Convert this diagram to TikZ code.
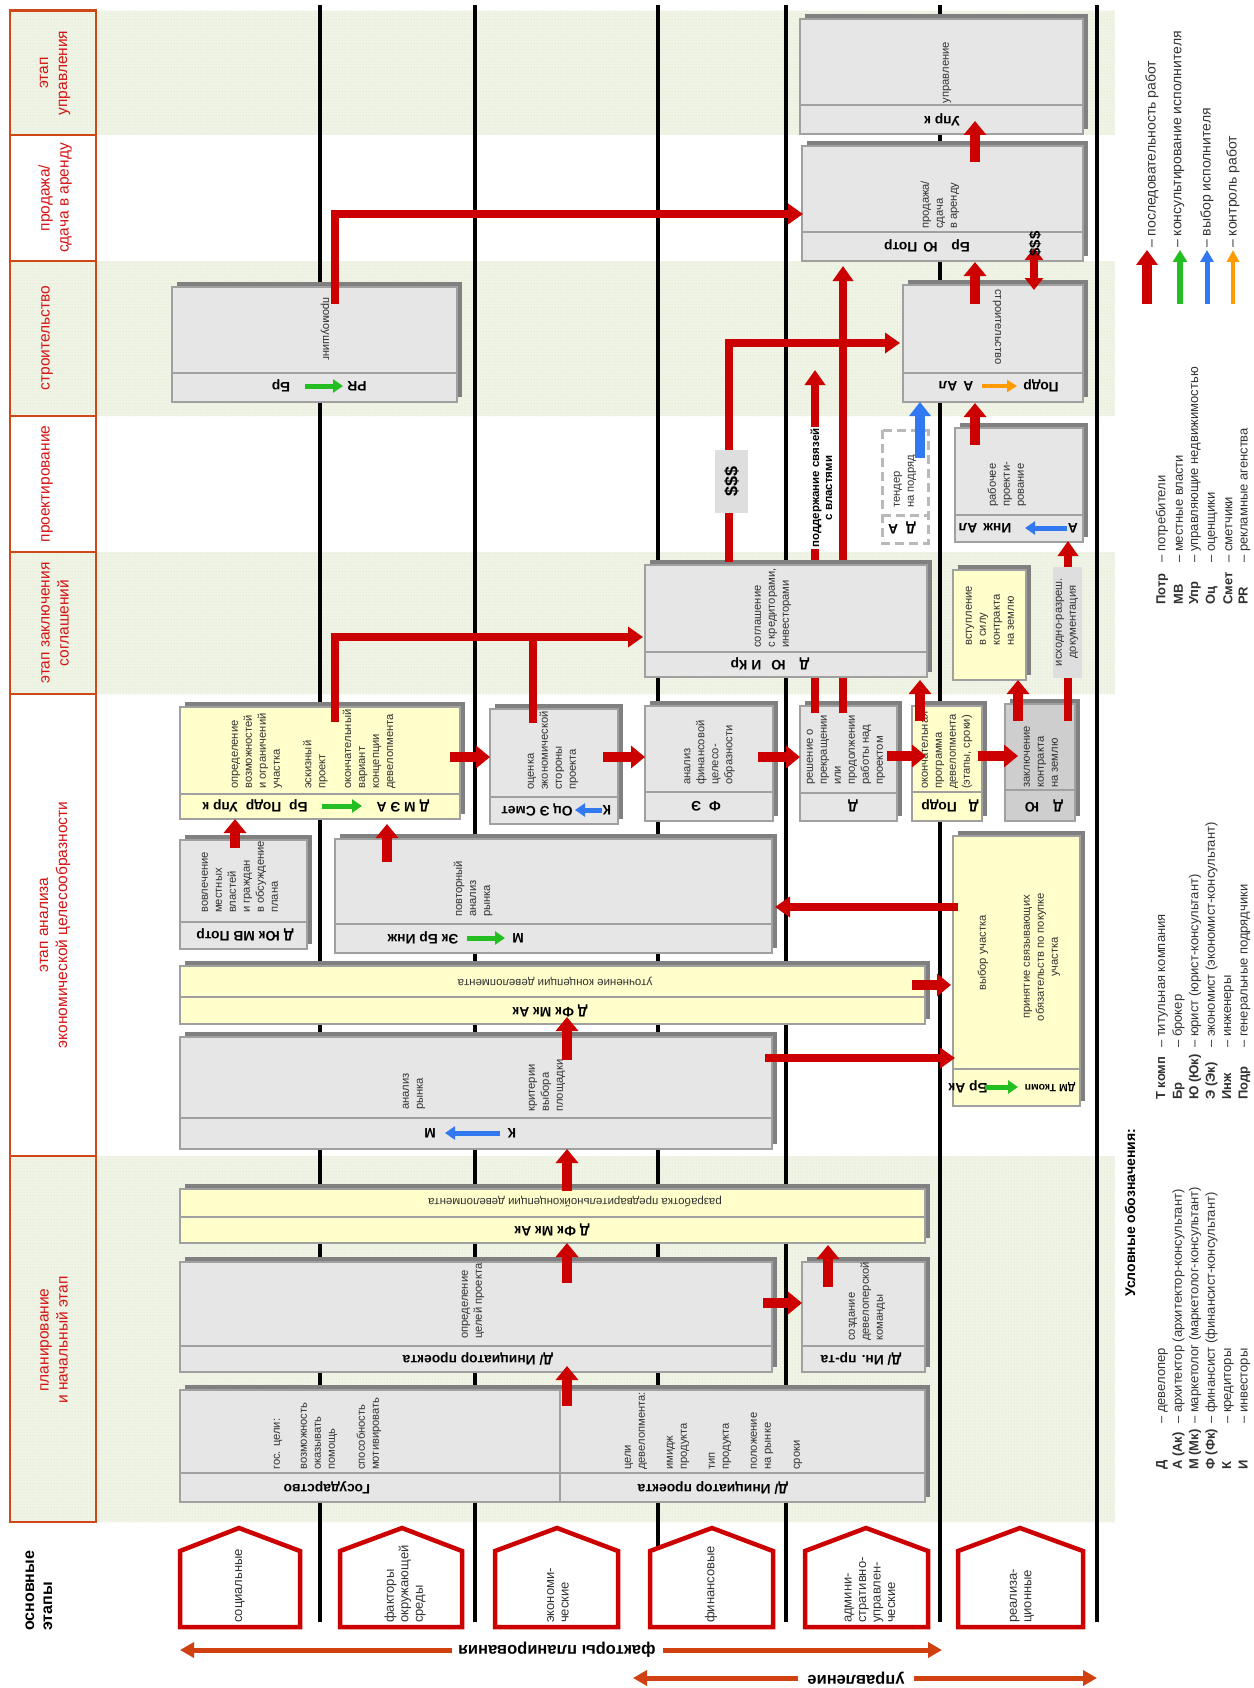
\documentclass[tikz,border=0pt]{standalone}
\usepackage{fontspec}
\setmainfont{Liberation Sans}
\usetikzlibrary{arrows.meta,patterns}
\definecolor{redc}{RGB}{204,0,0}
\definecolor{hdrc}{RGB}{208,72,24}
\definecolor{hdrtext}{RGB}{212,20,20}
\definecolor{botc}{RGB}{208,64,16}
\definecolor{bandc}{RGB}{240,244,230}
\definecolor{dotc}{RGB}{214,224,190}
\definecolor{boxg}{RGB}{230,230,230}
\definecolor{boxy}{RGB}{255,255,204}
\definecolor{boxd}{RGB}{206,206,206}
\definecolor{shadc}{RGB}{128,128,128}
\definecolor{bordc}{RGB}{160,160,160}
\definecolor{descc}{RGB}{50,50,50}
\definecolor{greenc}{RGB}{34,190,34}
\definecolor{bluec}{RGB}{50,120,240}
\definecolor{orangec}{RGB}{255,155,0}
\definecolor{labc}{RGB}{222,222,222}
\definecolor{tendc}{RGB}{185,185,185}
\tikzset{
  boxb/.style={draw=bordc, line width=2.2pt},
  sepl/.style={draw=bordc, line width=2pt},
  desc/.style={rotate=90, anchor=west, align=left, inner sep=0pt, text=descc, font=\fontsize{11.2}{14}\selectfont},
  descr/.style={rotate=-90, inner sep=0pt, text=descc, font=\fontsize{11.2}{14}\selectfont},
  descm/.style={rotate=90, align=center, inner sep=0pt, text=descc, font=\fontsize{11.2}{14}\selectfont},
  role/.style={rotate=180, inner sep=0pt, font=\bfseries\fontsize{13.8}{15}\selectfont},
  hdrtxt/.style={rotate=90, align=center, inner sep=0pt, text=hdrtext, font=\fontsize{15.5}{19}\selectfont},
  pentxt/.style={rotate=90, anchor=west, align=left, inner sep=0pt, text=descc, font=\fontsize{13}{14.5}\selectfont},
  rflow/.style={draw=redc, line width=10pt, -{Triangle[width=22pt,length=14pt]}},
  rline/.style={draw=redc, line width=8pt},
  rlinea/.style={draw=redc, line width=8pt, -{Triangle[width=20pt,length=15pt]}},
  garr/.style={draw=greenc, line width=5pt, -{Triangle[width=13pt,length=10pt]}},
  barr/.style={draw=bluec, line width=5pt, -{Triangle[width=13pt,length=10pt]}},
  oarr/.style={draw=orangec, line width=4pt, -{Triangle[width=12pt,length=10pt]}},
  botarr/.style={draw=botc, line width=5pt, -{Triangle[width=15pt,length=14pt]}},
  lane/.style={draw=black, line width=3.2pt},
  pent/.style={draw=redc, line width=4.5pt, fill=white, line join=miter},
  tend/.style={draw=tendc, line width=3pt, dash pattern=on 9pt off 5pt},
  legs/.style={rotate=90, anchor=west, inner sep=0pt, text=descc, font=\fontsize{13}{15}\selectfont},
  legsb/.style={rotate=90, anchor=west, inner sep=0pt, text=descc, font=\fontsize{14}{16}\selectfont}
}
\newcommand\gbx[6]{%
  \fill[shadc] (#1+5,#2-5) rectangle (#3+5,#4-5);
  \draw[boxb,fill=#6] (#1,#2) rectangle (#3,#4);
  \draw[sepl] (#1,#5) -- (#3,#5);
}
\newcommand\gbxn[5]{%
  \fill[shadc] (#1+5,#2-5) rectangle (#3+5,#4-5);
  \draw[boxb,fill=#5] (#1,#2) rectangle (#3,#4);
}
\newcommand\lgd[5]{\node[legs] at (#1,#2) {\makebox[#3pt][l]{\bfseries #4}– #5};}
\begin{document}
\begin{tikzpicture}[x=1pt,y=-1pt]
\useasboundingbox (0,0) rectangle (1253,1688);
\fill[white] (0,0) rectangle (1253,1688);
% bands
\foreach \ya/\yb in {10.7/135, 261/416, 552/694, 1156/1522}{
  \fill[bandc] (10,\ya) rectangle (1115,\yb);
  \fill[pattern=dots, pattern color=dotc] (10,\ya) rectangle (1115,\yb);}
% header cells
\foreach \ya/\yb in {10.7/135, 135/261, 261/416, 416/552, 552/694, 694/1156, 1156/1522}
  \draw[draw=hdrc, line width=2.5pt] (10,\ya) rectangle (96,\yb);
\node[hdrtxt] (h1) at (55,73) {этап\\управления};
\node[hdrtxt] (h2) at (55,198) {продажа/\\сдача в аренду};
\node[hdrtxt] (h3) at (47,338) {строительство};
\node[hdrtxt] (h4) at (47,484) {проектирование};
\node[hdrtxt] (h5) at (55,623) {этап заключения\\соглашений};
\node[hdrtxt] (h6) at (55,925) {этап анализа\\экономической целесообразности};
\node[hdrtxt] (h7) at (54,1340) {планирование\\и начальный этап};
\node[rotate=90, anchor=west, align=left, inner sep=0pt, font=\bfseries\fontsize{16}{18}\selectfont] (osn) at (39,1631) {основные\\этапы};
% lane lines
\foreach \x in {320,475,658,786,940,1097}
  \draw[lane] (\x,5) -- (\x,1622);
% pentagons
\foreach \l/\r/\p in {180/300/239, 340/462/402, 495/618/557, 650/773/712, 805/928/866, 958/1083/1020}
  \draw[pent] (\l,1627) -- (\l,1551) -- (\p,1528) -- (\r,1551) -- (\r,1627) -- cycle;
\node[pentxt] (p1) at (240,1623) {социальные};
\node[pentxt] (p2) at (405,1623) {факторы\\окружающей\\среды};
\node[pentxt] (p3) at (558,1623) {экономи-\\ческие};
\node[pentxt] (p4) at (711,1623) {финансовые};
\node[pentxt] (p5) at (870,1623) {админи-\\стративно-\\управлен-\\ческие};
\node[pentxt] (p6) at (1022,1623) {реализа-\\ционные};
% bottom arrows
\draw[botarr] (452,1650) -- (180,1650);
\draw[botarr] (663,1650) -- (942,1650);
\node[rotate=180, inner sep=0pt, font=\bfseries\fontsize{16.5}{18}\selectfont] (fp) at (557,1650) {факторы планирования};
\draw[botarr] (798,1678) -- (633,1678);
\draw[botarr] (914,1678) -- (1097,1678);
\node[rotate=180, inner sep=0pt, font=\bfseries\fontsize{16.5}{18}\selectfont] (upr) at (856,1678) {управление};
% boxes
\gbx{800}{19}{1083}{134}{105}{boxg}
\gbx{802}{146}{1083}{261}{232}{boxg}
\gbx{903}{285}{1083}{402}{373}{boxg}
\gbx{172}{287}{457}{402}{373}{boxg}
\gbx{955}{428}{1083}{542}{515}{boxg}
\gbxn{953}{570}{1026}{680}{boxy}
\gbx{180}{707}{460}{819}{794}{boxy}
\gbx{490}{709}{618}{824}{797}{boxg}
\gbx{645}{706}{773}{821}{792}{boxg}
\gbx{800}{706}{897}{821}{793}{boxg}
\gbx{912}{706}{982}{821}{792}{boxy}
\gbx{1005}{704}{1075}{821}{790}{boxd}
\gbx{180}{840}{307}{949}{922}{boxg}
\gbx{335}{839}{772}{953}{924}{boxg}
\gbx{180}{966}{925}{1024}{997}{boxy}
\gbx{953}{836}{1080}{1106}{1069}{boxy}
\gbx{180}{1037}{772}{1149}{1118}{boxg}
\gbx{180}{1189}{925}{1243}{1217}{boxy}
\gbx{180}{1262}{772}{1372}{1346}{boxg}
\gbx{802}{1262}{925}{1372}{1346}{boxg}
\gbx{180}{1390}{925}{1502}{1473}{boxg}
\draw[sepl] (560,1390) -- (560,1502);
% tender box
\fill[white] (882,430) rectangle (928,543);
\draw[tend] (882,430) rectangle (928,543);
\draw[tend] (882,515) -- (928,515);
% lines behind agreement box
\draw[rlinea] (815,713) -- (815,370);
\draw[rlinea] (843,713) -- (843,266);
\gbx{645}{565}{927}{677}{652}{boxg}
% descriptions
\node[desc] at (947,103.5) {управление};
\node[desc] at (940,229) {продажа/\\сдача\\в аренду};
\node[descr] at (997,327) {строительство};
\node[descr] at (325,329) {промоушинг};
\node[desc] at (1007,507) {рабочее\\проекти-\\рование};
\node[desc] at (905,508) {тендер\\на подряд};
\node[desc] at (773,648) {соглашение\\с кредиторами,\\инвесторами};
\node[desc] at (990,646) {вступление\\в силу\\контракта\\на землю};
\node[desc] at (257,789) {определение\\возможностей\\и ограничений\\участка};
\node[desc] at (315.5,789) {эскизный\\проект};
\node[desc] at (369,789) {окончательный\\вариант\\концепции\\девелопмента};
\node[desc] at (553,790) {оценка\\экономической\\стороны\\проекта};
\node[desc] at (709.5,785) {анализ\\финансовой\\целесо-\\образности};
\node[desc] at (846,785) {решение о\\прекращении\\или\\продолжении\\работы над\\проектом};
\node[desc] at (947,789) {окончательная\\программа\\девелопмента\\(этапы, сроки)};
\node[desc] at (1041,788) {заключение\\контракта\\на землю};
\node[desc] at (240,913) {вовлечение\\местных\\властей\\и граждан\\в обсуждение\\плана};
\node[desc] at (473,917) {повторный\\анализ\\рынка};
\node[descm] at (983,953) {выбор участка};
\node[descm] at (1042,957) {принятие связывающих\\обязательств по покупке\\участка};
\node[desc] at (414,1110) {анализ\\рынка};
\node[desc] at (547,1112) {критерии\\выбора\\площадки};
\node[desc] at (473,1339) {определение\\целей проекта};
\node[desc] at (867,1341) {создание\\девелоперской\\команды};
\node[desc] at (278,1470) {гос. цели:};
\node[desc] at (319,1470) {возможность\\оказывать\\помощь};
\node[desc] at (369,1470) {способность\\мотивировать};
\node[desc] at (636,1470) {цели\\девелопмента:};
\node[desc] at (678,1470) {имидж\\продукта};
\node[desc] at (720,1470) {тип\\продукта};
\node[desc] at (762,1470) {положение\\на рынке};
\node[desc] at (798,1470) {сроки};
\node[rotate=180, inner sep=0pt, text=descc, font=\fontsize{11.5}{14}\selectfont] at (555,981) {уточнение концепции девелопмента};
\node[rotate=180, inner sep=0pt, text=descc, font=\fontsize{11.5}{14}\selectfont] at (575,1202) {разработка предварительнойконцепции девелопмента};
% role strips
\node[role] at (942,119.5) {Упр к};
\node[role] at (927,246) {Бр\hspace{14pt}Ю\hspace{6pt}Потр};
\node[role] at (956,386) {А\hspace{6pt}Ал};
\node[role] at (1041,386) {Подр};
\node[role] at (281,386) {Бр};
\node[role] at (357,386) {PR};
\node[role] at (985,528) {Инж\hspace{6pt}Ал};
\node[role] at (1073,528) {А};
\node[role] at (902,528) {Д\hspace{8pt}А};
\node[role] at (770,664) {Д\hspace{14pt}Ю\hspace{10pt}И\hspace{4pt}Кр};
\node[role] at (255,806) {Бр\hspace{8pt}Подр\hspace{8pt}Упр к};
\node[role] at (403,806) {Д М Э А};
\node[role] at (537,810) {Оц\ Э\ Смет};
\node[role] at (607,810) {К};
\node[role] at (706,806) {Ф\hspace{8pt}Э};
\node[role] at (853,806) {Д};
\node[role] at (950,806) {Д\hspace{12pt}Подр};
\node[role] at (1044,806) {Д\hspace{14pt}Ю};
\node[role] at (245,935) {Д Юк МВ Потр};
\node[role] at (423,938) {Эк Бр Инж};
\node[role] at (518,938) {М};
\node[role] at (550,1011) {Д Фк Мк Ак};
\node[role] at (968,1087) {Бр Ак};
\node[role, font=\bfseries\fontsize{10.5}{12}\selectfont] at (1050,1087) {ДМ Ткомп};
\node[role] at (430,1133) {М};
\node[role] at (512,1133) {К};
\node[role] at (552,1230) {Д Фк Мк Ак};
\node[role] at (478,1359) {Д/ Инициатор проекта};
\node[role] at (861,1359) {Д/ Ин. пр-та};
\node[role] at (327,1488) {Государство};
\node[role] at (713,1488) {Д/ Инициатор проекта};
% red flow arrows
\draw[rflow] (567,1406) -- (567,1366);
\draw[rflow] (567,1283) -- (567,1243);
\draw[rflow] (828,1287) -- (828,1245);
\draw[rflow] (763,1303) -- (802,1303);
\draw[rflow] (567,1191) -- (567,1149);
\draw[rflow] (567,1060) -- (567,1017);
\draw[rflow] (912,985) -- (951,985);
\draw[rflow] (235,848) -- (235,819);
\draw[rflow] (387,862) -- (387,824);
\draw[rflow] (450,757) -- (490,757);
\draw[rflow] (603,757) -- (645,757);
\draw[rflow] (758,757) -- (800,757);
\draw[rflow] (887,756) -- (926,756);
\draw[rflow] (978,756) -- (1018,756);
\draw[rflow] (920,721) -- (920,680);
\draw[rflow] (1018,721) -- (1018,680);
\draw[rflow] (975,445) -- (975,403);
\draw[rflow] (975,304) -- (975,262);
\draw[rflow] (975,162) -- (975,121);
\draw[rlinea] (765,1058) -- (955,1058);
\draw[rlinea] (958,907) -- (775,907);
\draw[rlinea] (1068,721) -- (1068,541);
\draw[rlinea] (335,304) -- (335,214) -- (803,214);
\draw[rlinea] (729,562) -- (729,343) -- (900,343);
\draw[rlinea] (335,722) -- (335,637) -- (643,637);
\draw[rline] (533,723) -- (533,637);
\draw[rline, {Triangle[width=18pt,length=12pt]}-{Triangle[width=18pt,length=12pt]}] (1034,248) -- (1034,290);
\draw[draw=bluec, line width=10pt, -{Triangle[width=21pt,length=14pt]}] (920,458) -- (920,402);
% small role arrows
\draw[garr] (305,386) -- (343,386);
\draw[oarr] (982,386) -- (1017,386);
\draw[barr] (1067,528) -- (1025,528);
\draw[garr] (322,806) -- (362,806);
\draw[barr] (602,810) -- (575,810);
\draw[garr] (467,938) -- (505,938);
\draw[garr] (985,1087) -- (1018,1087);
\draw[barr] (500,1133) -- (445,1133);
% labels over lines
\fill[labc] (715,450) rectangle (748,513);
\node[rotate=90, inner sep=0pt, font=\bfseries\fontsize{18}{20}\selectfont] at (731.5,481.5) {\$\$\$};
\node[rotate=90, fill=white, align=center, inner sep=1.5pt, font=\bfseries\fontsize{11.5}{13}\selectfont] at (821.5,488) {поддержание связей\\с властями};
\fill[labc] (1053,567) rectangle (1082,678);
\node[descm] at (1067,622) {исходно-разреш.\\документация};
\node[rotate=90, inner sep=0pt, font=\bfseries\fontsize{15}{17}\selectfont] at (1035,244) {\$\$\$};
% legend arrows
\draw[draw=redc, line width=10pt, -{Triangle[width=21pt,length=15pt]}] (1147,304) -- (1147,250);
\draw[draw=greenc, line width=6pt, -{Triangle[width=14pt,length=12pt]}] (1180,304) -- (1180,250);
\draw[draw=bluec, line width=5pt, -{Triangle[width=13pt,length=12pt]}] (1207,304) -- (1207,250);
\draw[draw=orangec, line width=4pt, -{Triangle[width=12pt,length=12pt]}] (1233,304) -- (1233,250);
\node[legsb] at (1152,248) {– последовательность работ};
\node[legsb] at (1179,248) {– консультирование исполнителя};
\node[legsb] at (1207,248) {– выбор исполнителя};
\node[legsb] at (1233,248) {– контроль работ};
% legend abbreviations
\node[rotate=90, anchor=west, inner sep=0pt, font=\bfseries\fontsize{14}{16}\selectfont] at (1130,1297) {Условные обозначения:};
\lgd{1162}{1470}{46}{Д}{девелопер}
\lgd{1178.5}{1470}{46}{А (Ак)}{архитектор (архитектор-консультант)}
\lgd{1195}{1470}{46}{М (Мк)}{маркетолог (маркетолог-консультант)}
\lgd{1211.5}{1470}{46}{Ф (Фк)}{финансист (финансист-консультант)}
\lgd{1228}{1470}{46}{К}{кредиторы}
\lgd{1244.5}{1470}{46}{И}{инвесторы}
\lgd{1162}{1100}{52}{Т комп}{титульная компания}
\lgd{1178.5}{1100}{52}{Бр}{брокер}
\lgd{1195}{1100}{52}{Ю (Юк)}{юрист (юрист-консультант)}
\lgd{1211.5}{1100}{52}{Э (Эк)}{экономист (экономист-консультант)}
\lgd{1228}{1100}{52}{Инж}{инженеры}
\lgd{1244.5}{1100}{52}{Подр}{генеральные подрядчики}
\lgd{1162}{605}{42}{Потр}{потребители}
\lgd{1178.5}{605}{42}{МВ}{местные власти}
\lgd{1195}{605}{42}{Упр}{управляющие недвижимостью}
\lgd{1211.5}{605}{42}{Оц}{оценщики}
\lgd{1228}{605}{42}{Смет}{сметчики}
\lgd{1244.5}{605}{42}{PR}{рекламные агенства}
\end{tikzpicture}
\end{document}
